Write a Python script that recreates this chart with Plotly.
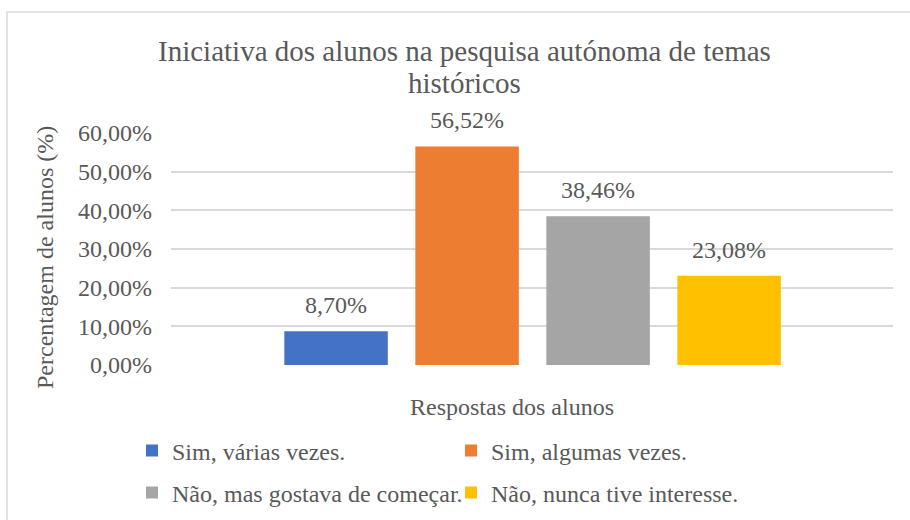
import plotly.graph_objects as go

# ---- data ----
categories = ["Sim, várias vezes.", "Sim, algumas vezes.",
              "Não, mas gostava de começar.", "Não, nunca tive interesse."]
values = [8.70, 56.52, 38.46, 23.08]
value_labels = ["8,70%", "56,52%", "38,46%", "23,08%"]
colors = ["#4472C4", "#ED7D31", "#A5A5A5", "#FFC000"]
y_ticks = [0, 10, 20, 30, 40, 50, 60]
y_tick_labels = ["0,00%", "10,00%", "20,00%", "30,00%", "40,00%", "50,00%", "60,00%"]
title_lines = ["Iniciativa dos alunos na pesquisa autónoma de temas", "históricos"]
x_title = "Respostas dos alunos"
y_title = "Percentagem de alunos (%)"

# ---- layout geometry (pixels) ----
W, H = 910, 520
L, R, T, B = 171, 17, 133, 155
PW, PH = W - L - R, H - T - B


def px(x):
    return (x - L) / PW


def py(y):
    return (H - B - y) / PH


FONT = "Liberation Serif"
TXT = "#595959"

fig = go.Figure()
for i, (cat, val, col) in enumerate(zip(categories, values, colors)):
    fig.add_trace(go.Bar(
        x=[cat], y=[val], name=cat, marker=dict(color=col, line=dict(width=0)),
        width=0.79, legend="legend" if i < 2 else "legend2",
        hoverinfo="skip",
    ))

annotations = []
for cat, val, lab in zip(categories, values, value_labels):
    annotations.append(dict(x=cat, y=val, xref="x", yref="y", text=lab,
                            showarrow=False, yanchor="bottom", yshift=11,
                            font=dict(family=FONT, size=24, color=TXT)))

annotations.append(dict(x=px(464), y=py(51), xref="paper", yref="paper",
                        text=title_lines[0], showarrow=False,
                        xanchor="center", yanchor="middle",
                        font=dict(family=FONT, size=29, color=TXT)))
annotations.append(dict(x=px(464), y=py(83), xref="paper", yref="paper",
                        text=title_lines[1], showarrow=False,
                        xanchor="center", yanchor="middle",
                        font=dict(family=FONT, size=29, color=TXT)))
annotations.append(dict(x=px(512), y=py(407), xref="paper", yref="paper",
                        text=x_title, showarrow=False,
                        xanchor="center", yanchor="middle",
                        font=dict(family=FONT, size=24, color=TXT)))
annotations.append(dict(x=px(45), y=py(258), xref="paper", yref="paper",
                        text=y_title, showarrow=False, textangle=-90,
                        xanchor="center", yanchor="middle",
                        font=dict(family=FONT, size=24, color=TXT)))

legend_common = dict(orientation="h", xanchor="left", yanchor="middle",
                     entrywidth=274, entrywidthmode="pixels",
                     font=dict(family=FONT, size=24, color=TXT),
                     bgcolor="rgba(0,0,0,0)", borderwidth=0,
                     itemclick=False, itemdoubleclick=False)

fig.update_layout(
    width=W, height=H,
    margin=dict(l=L, r=R, t=T, b=B, pad=0, autoexpand=False),
    paper_bgcolor="white", plot_bgcolor="white",
    barmode="overlay",
    showlegend=True,
    legend=dict(x=px(132), y=py(451), **legend_common),
    legend2=dict(x=px(132), y=py(493), **legend_common),
    annotations=annotations,
    font=dict(family=FONT, color=TXT),
    shapes=[dict(type="rect", xref="paper", yref="paper",
                 x0=px(7), x1=px(930), y0=py(540), y1=py(12),
                 line=dict(color="#d9d9d9", width=1.5), fillcolor="rgba(0,0,0,0)",
                 layer="below")],
)

fig.update_xaxes(range=[-1.26, 4.251], showticklabels=False, showgrid=False,
                 zeroline=False, showline=False, ticks="", fixedrange=True)
fig.update_yaxes(range=[0, 60], tickvals=y_ticks, ticktext=y_tick_labels,
                 showgrid=True, gridcolor="#d9d9d9", gridwidth=1.5,
                 zeroline=False, showline=False, ticks="",
                 ticklabelstandoff=18,
                 tickfont=dict(family=FONT, size=24, color=TXT), fixedrange=True)

fig.write_html("out.html", config={"displayModeBar": False},
               post_script="document.body.style.margin='0px';document.body.style.overflow='hidden';")
